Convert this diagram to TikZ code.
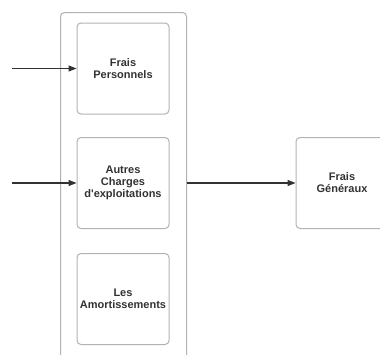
\documentclass[tikz,border=0pt]{standalone}
\usepackage{fontspec}
\setmainfont{Liberation Sans}[Ligatures=TeXOff]
\usepackage{tikz}
\usetikzlibrary{arrows.meta, positioning}
\definecolor{cadre}{RGB}{178,178,178}
\definecolor{encre}{RGB}{50,50,50}
\tikzset{
  poste/.style={draw=cadre, line width=1pt, rounded corners=4pt, minimum width=92pt, minimum height=91pt,
    align=center, text=encre, font=\bfseries\fontsize{11}{12}\selectfont, inner sep=0pt},
  fleche/.style={-{Triangle[length=8pt,width=6pt]}, line width=1.2pt, encre}
}

\begin{document}
\begin{tikzpicture}[x=1pt, y=-1pt]
  \useasboundingbox (0,0) rectangle (380,354);
  \clip (0,0) rectangle (380,354);

  % Group of charges
  \node[draw=cadre, line width=1pt, rounded corners=4pt, minimum width=126pt, minimum height=360pt,
        anchor=north west, inner sep=0pt] (groupe) at (60,12) {};

  % Charges
  \node[poste] (frais) at (123,68.5) {Frais\\Personnels};
  \node[poste] (autres) at (123,183) {Autres\\Charges\\d'exploitations};
  \node[poste] (amort) at (123,299) {Les\\Amortissements};

  % Result
  \node[poste] (generaux) at (342,183) {Frais\\Généraux};

  % Inputs
  \coordinate (in1) at (12,68.5);
  \coordinate (in2) at (12,183);
  \draw[fleche] (in1) -- (frais.west);
  \draw[fleche] (in2) -- (autres.west);

  % Output
  \draw[fleche] (groupe.east |- generaux.west) -- (generaux.west);
\end{tikzpicture}
\end{document}
